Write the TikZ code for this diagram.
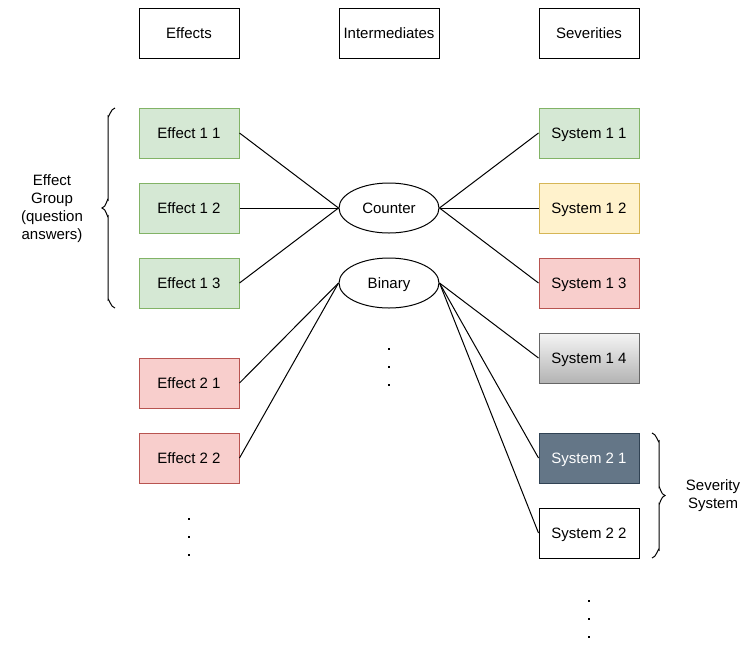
\documentclass[tikz,border=0pt]{standalone}
\usepackage{fontspec}
\setmainfont{Liberation Sans}
\usetikzlibrary{shapes.geometric}
\definecolor{gfill}{HTML}{D5E8D4}\definecolor{gline}{HTML}{82B366}
\definecolor{yfill}{HTML}{FFF2CC}\definecolor{yline}{HTML}{D6B656}
\definecolor{rfill}{HTML}{F8CECC}\definecolor{rline}{HTML}{B85450}
\definecolor{dfill}{HTML}{647687}\definecolor{dline}{HTML}{314354}
\definecolor{graytop}{HTML}{F5F5F5}\definecolor{graybot}{HTML}{B3B3B3}\definecolor{grayline}{HTML}{666666}
\tikzset{
  box/.style={draw, rectangle, minimum width=100pt, minimum height=50pt, inner sep=0pt, line width=1pt, text height=12pt, text depth=1.3pt, font=\fontsize{15}{18}\selectfont},
  green/.style={box, fill=gfill, draw=gline},
  yellow/.style={box, fill=yfill, draw=yline},
  red/.style={box, fill=rfill, draw=rline},
  dark/.style={box, fill=dfill, draw=dline, text=white},
  grad/.style={box, top color=graytop, bottom color=graybot, draw=grayline},
  oval/.style={draw, ellipse, minimum width=100pt, minimum height=50pt, inner sep=0pt, line width=1pt, text height=12pt, text depth=1.3pt, font=\fontsize{15}{18}\selectfont},
  link/.style={line width=1pt},
  lbl/.style={align=center, font=\fontsize{15}{18}\selectfont, inner sep=0pt},
  dotm/.style={fill=black, rectangle, minimum size=2pt, inner sep=0pt},
  brace/.style={line width=1pt}
}
\begin{document}
\begin{tikzpicture}[x=1pt,y=-1pt]
\useasboundingbox (0,0) rectangle (746,646);
% headers
\node[box] (hE) at (189,33) {Effects};
\node[box] (hI) at (389,33) {Intermediates};
\node[box] (hS) at (589,33) {Severities};
% effects
\node[green] (e11) at (189,133) {Effect 1 1};
\node[green] (e12) at (189,208) {Effect 1 2};
\node[green] (e13) at (189,283) {Effect 1 3};
\node[red] (e21) at (189,383) {Effect 2 1};
\node[red] (e22) at (189,458) {Effect 2 2};
% intermediates
\node[oval] (cnt) at (389,208) {Counter};
\node[oval] (bin) at (389,283) {Binary};
% systems
\node[green] (s11) at (589,133) {System 1 1};
\node[yellow] (s12) at (589,208) {System 1 2};
\node[red] (s13) at (589,283) {System 1 3};
\node[grad] (s14) at (589,358) {System 1 4};
\node[dark] (s21) at (589,458) {System 2 1};
\node[box] (s22) at (589,533) {System 2 2};
% links
\draw[link] (e11.east) -- (cnt.west);
\draw[link] (e12.east) -- (cnt.west);
\draw[link] (e13.east) -- (cnt.west);
\draw[link] (cnt.east) -- (s11.west);
\draw[link] (cnt.east) -- (s12.west);
\draw[link] (cnt.east) -- (s13.west);
\draw[link] (bin.west) -- (e21.east);
\draw[link] (bin.west) -- (e22.east);
\draw[link] (bin.east) -- (s14.west);
\draw[link] (bin.east) -- (s21.west);
\draw[link] (bin.east) -- (s22.west);
% braces
\draw[brace] (115,108) to[out=180,in=-90] (108,116) -- (108,200) to[out=90,in=0] (102,208) to[out=0,in=-90] (108,216) -- (108,300) to[out=90,in=180] (115,308);
\draw[brace] (652,433) to[out=0,in=-90] (659,441) -- (659,487.5) to[out=90,in=180] (665,495.5) to[out=180,in=-90] (659,503.5) -- (659,550) to[out=90,in=0] (652,558);
% labels
\node[lbl] (lg) at (52,209) {Effect\\Group\\(question\\answers)};
\node[lbl] (ls) at (713,496) {Severity\\System};
% dots
\node[dotm] (d1) at (389,349) {};
\node[dotm] (d2) at (389,367) {};
\node[dotm] (d3) at (389,385) {};
\node[dotm] (d4) at (189,519) {};
\node[dotm] (d5) at (189,537) {};
\node[dotm] (d6) at (189,555) {};
\node[dotm] (d7) at (589,601) {};
\node[dotm] (d8) at (589,619) {};
\node[dotm] (d9) at (589,637) {};
\end{tikzpicture}
\end{document}
